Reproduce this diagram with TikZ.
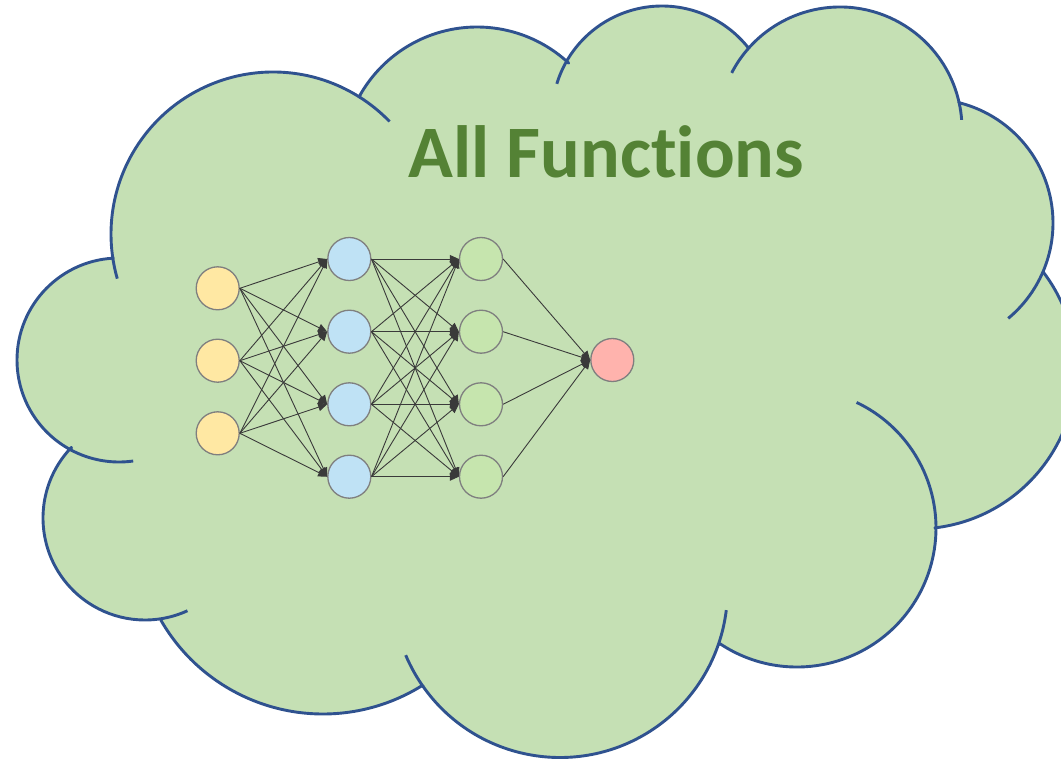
\documentclass[tikz,border=0pt]{standalone}
\usepackage{fontspec}
\newfontfamily\titlefont{Carlito}[Ligatures=NoCommon]
\usetikzlibrary{calc,arrows.meta}

\definecolor{cloudfill}{HTML}{C5E0B4}
\definecolor{cloudline}{HTML}{2F528F}
\definecolor{titlegreen}{HTML}{548235}
\definecolor{nodegray}{HTML}{7F7F7F}
\definecolor{edgegray}{HTML}{3A3A3A}
\definecolor{inyellow}{HTML}{FFE8A3}
\definecolor{hidblue}{HTML}{BFE2F5}
\definecolor{hidgreen}{HTML}{C6E5AE}
\definecolor{outred}{HTML}{FFB3AD}

\tikzset{
  cloudshape/.style={fill=cloudfill, draw=cloudline, line width=2.9pt, line join=round},
  cloudfold/.style={draw=cloudline, line width=2.9pt, line cap=butt},
  neuron/.style={circle, draw=nodegray, line width=1.3pt, minimum size=43pt, inner sep=0pt},
  edge/.style={draw=edgegray, line width=0.9pt, -{Triangle[length=9pt,width=8pt]}},
  title/.style={text=titlegreen, font=\titlefont\bfseries\fontsize{74}{80}\selectfont, anchor=base, inner sep=0pt}
}

\begin{document}
\begin{tikzpicture}[x=1pt,y=1pt]
\useasboundingbox (0,0) rectangle (1061,-760);
\clip (0,0) rectangle (1061,-760);

% outer outline of the cloud, lobe by lobe (counter-clockwise)
\path[cloudshape]
  ($(840,-129)+(12.8:122)$) arc[start angle=12.8,end angle=138,radius=122]
  -- ($(662,-116)+(38.4:110)$) arc[start angle=38.4,end angle=150.3,radius=110]
  -- ($(477,-161.5)+(47:134.5)$) arc[start angle=47,end angle=150,radius=134.5]
  -- ($(273,-234)+(57.7:162)$) arc[start angle=57.7,end angle=188.2,radius=162]
  -- ($(119,-360)+(93.3:102)$) arc[start angle=93.3,end angle=241.9,radius=102]
  -- ($(145,-518)+(136.2:102)$) arc[start angle=136.2,end angle=279.6,radius=102]
  -- ($(323,-527)+(209.9:187)$) arc[start angle=209.9,end angle=302,radius=187]
  -- ($(560,-590)+(215.3:167.5)$) arc[start angle=215.3,end angle=340.8,radius=167.5]
  -- ($(797,-528)+(236.3:139)$) arc[start angle=236.3,end angle=359.6,radius=139]
  -- ($(916,-369)+(276.8:160)$) arc[start angle=276.8,end angle=397.4,radius=160]
  -- ($(929,-223)+(-23.3:124)$) arc[start angle=-23.3,end angle=76.1,radius=124]
  -- cycle;

% inner folds where the lobes overlap
\draw[cloudfold] ($(273,-234)+(44:162)$) arc[start angle=44,end angle=57.7,radius=162];
\draw[cloudfold] ($(273,-234)+(188.2:162)$) arc[start angle=188.2,end angle=196,radius=162];
\draw[cloudfold] ($(119,-360)+(241.9:102)$) arc[start angle=241.9,end angle=278,radius=102];
\draw[cloudfold] ($(145,-518)+(279.6:102)$) arc[start angle=279.6,end angle=294.6,radius=102];
\draw[cloudfold] ($(560,-590)+(202.9:167.5)$) arc[start angle=202.9,end angle=215.3,radius=167.5];
\draw[cloudfold] ($(560,-590)+(340.8:167.5)$) arc[start angle=340.8,end angle=353.1,radius=167.5];
\draw[cloudfold] ($(797,-528)+(359.6:139)$) arc[start angle=359.6,end angle=424.6,radius=139];
\draw[cloudfold] ($(929,-223)+(-50.3:124)$) arc[start angle=-50.3,end angle=-23.3,radius=124];
\draw[cloudfold] ($(840,-129)+(4.3:122)$) arc[start angle=4.3,end angle=12.8,radius=122];
\draw[cloudfold] ($(840,-129)+(138:122)$) arc[start angle=138,end angle=152.6,radius=122];
\draw[cloudfold] ($(662,-116)+(150.3:110)$) arc[start angle=150.3,end angle=163,radius=110];

% title
\node[title] (ttl) at (606.5,-177) {All Functions};

% network layers
\foreach \k/\y in {1/288.3, 2/360.7, 3/433.3}
  \node[neuron, fill=inyellow] (i\k) at (217.7,-\y) {};
\foreach \k/\y in {1/259, 2/331.7, 3/404.3, 4/476.7}
  \node[neuron, fill=hidblue] (h\k) at (349.3,-\y) {};
\foreach \k/\y in {1/259, 2/331.7, 3/404.3, 4/476.7}
  \node[neuron, fill=hidgreen] (g\k) at (481,-\y) {};
\node[neuron, fill=outred] (o) at (612.3,-360) {};

% connections
\foreach \a in {1,2,3}
  \foreach \b in {1,2,3,4}
    \draw[edge] (i\a.east) -- (h\b.west);
\foreach \a in {1,2,3,4}
  \foreach \b in {1,2,3,4}
    \draw[edge] (h\a.east) -- (g\b.west);
\foreach \a in {1,2,3,4}
  \draw[edge] (g\a.east) -- (o.west);
\end{tikzpicture}
\end{document}
